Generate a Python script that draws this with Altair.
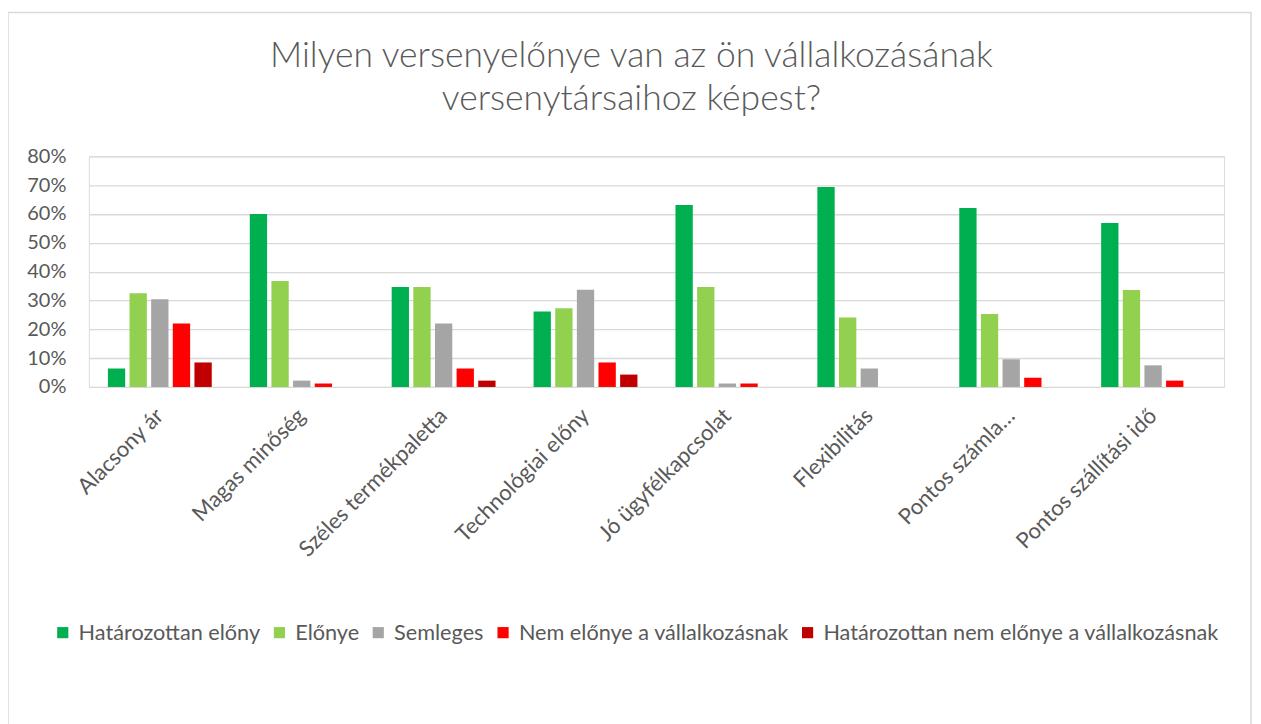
import altair as alt
import pandas as pd

categories = ["Alacsony ár", "Magas minőség", "Széles termékpaletta", "Technológiai előny",
              "Jó ügyfélkapcsolat", "Flexibilitás", "Pontos számla…", "Pontos szállítási idő"]
series = ["Határozottan előny", "Előnye", "Semleges", "Nem előnye a vállalkozásnak",
          "Határozottan nem előnye a vállalkozásnak"]
colors = ["#00B050", "#92D050", "#A5A5A5", "#FF0000", "#C00000"]

hatarozottan_elony = [0.064, 0.600, 0.347, 0.262, 0.631, 0.694, 0.621, 0.569]
elonye             = [0.325, 0.368, 0.347, 0.273, 0.347, 0.241, 0.253, 0.336]
semleges           = [0.304, 0.022, 0.220, 0.337, 0.012, 0.064, 0.096, 0.075]
nem_elonye         = [0.220, 0.012, 0.064, 0.085, 0.012, 0.000, 0.032, 0.022]
hat_nem_elonye     = [0.085, 0.000, 0.022, 0.043, 0.000, 0.000, 0.000, 0.000]

values = [hatarozottan_elony, elonye, semleges, nem_elonye, hat_nem_elonye]
rows = []
for s, vals in zip(series, values):
    for c, v in zip(categories, vals):
        rows.append({"category": c, "series": s, "value": v})
df = pd.DataFrame(rows)

FONT = "Lato"
GREY = "#595959"

bars = alt.Chart(df).mark_bar().encode(
    x=alt.X("category:N", sort=categories, title=None,
            scale=alt.Scale(paddingInner=0.268, paddingOuter=0.134),
            axis=alt.Axis(labelAngle=-45, labelAlign="right", labelBaseline="middle",
                          labelFontSize=22, labelFont=FONT, labelColor=GREY,
                          labelPadding=25, ticks=False, domain=True, domainColor="#D9D9D9",
                          labelLimit=400)),
    xOffset=alt.XOffset("series:N", sort=series, scale=alt.Scale(paddingInner=0.2, paddingOuter=0)),
    y=alt.Y("value:Q", title=None,
            scale=alt.Scale(domain=[0, 0.8], nice=False),
            axis=alt.Axis(values=[0, 0.1, 0.2, 0.3, 0.4, 0.5, 0.6, 0.7, 0.8], format=".0%",
                          labelFontSize=20, labelFont=FONT, labelColor=GREY, labelPadding=23,
                          ticks=False, domain=False, grid=True, gridColor="#D9D9D9", gridWidth=1.3)),
    color=alt.Color("series:N", sort=series,
                    scale=alt.Scale(domain=series, range=colors),
                    legend=alt.Legend(title=None, orient="none", legendX=-37, legendY=466,
                                      direction="horizontal", columns=5, symbolType="square",
                                      symbolSize=125, symbolStrokeWidth=0, labelFontSize=21.7,
                                      labelFont=FONT, labelColor=GREY, labelOffset=5,
                                      columnPadding=8, labelLimit=600)),
)

frame = alt.Chart(pd.DataFrame({"a": [0]})).mark_rect(
    fill=None, stroke="#D9D9D9", strokeWidth=1.5
).encode(
    x=alt.value(-81), x2=alt.value(1164), y=alt.value(-144), y2=alt.value(590)
)

chart = alt.layer(frame, bars).properties(
    width=1137, height=231,
    title=alt.TitleParams(
        text=["Milyen versenyelőnye van az ön vállalkozásának", "versenytársaihoz képest?"],
        font=FONT, fontSize=35.5, fontWeight=300, color=GREY, anchor="middle",
        dx=-25, offset=-106, lineHeight=43),
    autosize=alt.AutoSizeParams(type="none"),
    padding={"left": 81, "top": 148, "right": 29, "bottom": 337},
).configure_view(stroke=None).configure(background="white")

chart.save("out.html", embed_options={"renderer": "svg", "actions": False})
